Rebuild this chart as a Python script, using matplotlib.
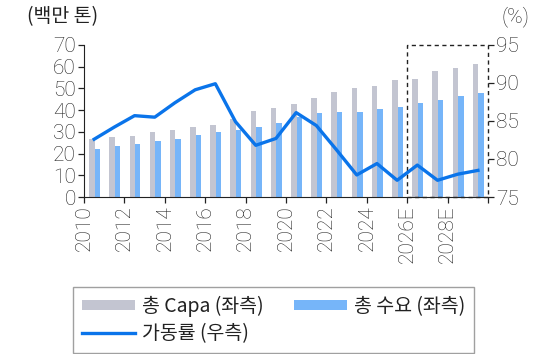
import numpy as np
import matplotlib.pyplot as plt
from matplotlib.patches import Rectangle
from matplotlib.font_manager import FontProperties
import matplotlib.transforms as mtransforms

plt.rcParams['font.family'] = ['Roboto', 'Noto Sans CJK KR', 'DejaVu Sans']
plt.rcParams['font.weight'] = 'light'

years = ['2010', '2011', '2012', '2013', '2014', '2015', '2016', '2017', '2018', '2019',
         '2020', '2021', '2022', '2023', '2024', '2025', '2026E', '2027E', '2028E', '2029E']
capa = [26.8, 27.8, 28.1, 29.9, 30.7, 32.1, 33.2, 36.0, 39.6, 41.0,
        42.6, 45.6, 48.4, 50.1, 51.1, 53.9, 54.5, 57.9, 59.4, 61.1]
demand = [22.1, 23.5, 24.3, 25.7, 26.9, 28.4, 29.8, 30.9, 32.2, 33.9,
          36.7, 38.5, 39.2, 39.2, 40.7, 41.6, 43.3, 44.8, 46.5, 48.0]
util = [82.6, 84.2, 85.7, 85.5, 87.4, 89.1, 89.9, 84.9, 81.8, 82.7,
        86.1, 84.4, 81.2, 77.9, 79.4, 77.2, 79.2, 77.2, 78.0, 78.5]

c_capa = '#c3c5d1'
c_demand = '#76b5f9'
c_line = '#0a74ea'
fs = 15
kr = FontProperties(family=['Noto Sans CJK KR'], weight='normal', size=fs - 1)

fig = plt.figure(figsize=(5.53, 3.54), dpi=100)
ax = fig.add_axes([0.152, 0.4435, 0.7305, 0.4295])
ax2 = ax.twinx()

x = np.arange(len(years))
w = 0.27
ax.bar(x + 0.52 - w / 2, capa, w, color=c_capa, label='총 Capa (좌측)')
ax.bar(x + 0.52 + w / 2, demand, w, color=c_demand, label='총 수요 (좌측)')
ax2.plot(x + 0.5, util, color=c_line, lw=2.4, label='가동률 (우측)')

ax.set_xlim(0, len(years))
ax.set_ylim(0, 70)
ax2.set_ylim(75, 95)
ax.set_yticks(range(0, 71, 10))
ax2.set_yticks(range(75, 96, 5))

ticks = list(range(0, len(years) + 1, 2))
ax.set_xticks(ticks)
ax.set_xticklabels([years[i] if i < len(years) else '' for i in ticks],
                   rotation=90, ha='center', va='top')

for a in (ax, ax2):
    a.tick_params(labelsize=fs, length=4, width=0.9, color='#222222',
                  labelcolor='#222222', pad=2)
    a.spines['top'].set_visible(False)
    a.spines['right'].set_visible(False)
ax2.spines['left'].set_visible(False)
ax2.spines['bottom'].set_visible(False)
ax.spines['left'].set_color('#222222')
ax.spines['bottom'].set_color('#222222')

# forecast period outline
trans = mtransforms.blended_transform_factory(ax.transData, ax.transAxes)
ax.add_patch(Rectangle((16, 0), 4, 1, transform=trans, fill=False,
                       ls=(0, (3, 2.5)), lw=1.0, ec='#222222', clip_on=False, zorder=5))

fig.text(0.049, 0.952, '(백만 톤)', fontproperties=kr, ha='left', va='center', color='#222222')
fig.text(0.907, 0.952, '(%)', fontsize=fs, ha='left', va='center', color='#222222')

h1, l1 = ax.get_legend_handles_labels()
h2, l2 = ax2.get_legend_handles_labels()
handles = [h1[0], h2[0], h1[1]]
labels = [l1[0], l2[0], l1[1]]
leg = fig.legend(handles, labels, ncol=2, loc='upper left',
                 bbox_to_anchor=(0.132, 0.189), borderaxespad=0, prop=kr,
                 handlelength=2.75, handleheight=0.45, handletextpad=0.35,
                 columnspacing=1.55, labelspacing=0.3, borderpad=0.45,
                 frameon=True, fancybox=False, edgecolor='#888888')
leg.get_frame().set_linewidth(1.0)
for t in leg.get_texts():
    t.set_color('#222222')

fig.savefig('out.png', dpi=100)
